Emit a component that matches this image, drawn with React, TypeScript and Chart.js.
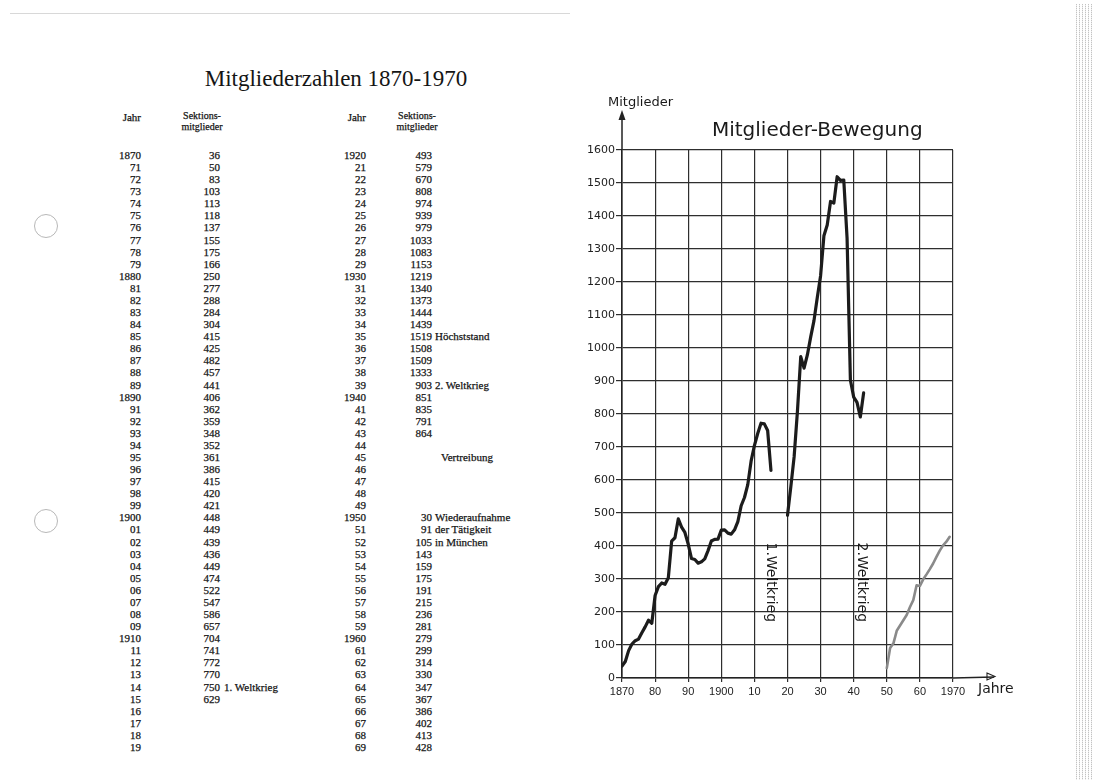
import React, { useEffect, useRef } from "react";
import { Chart, registerables } from "chart.js";

Chart.register(...registerables);

// ---- data ----
const years: number[] = [
  1870, 1871, 1872, 1873, 1874, 1875, 1876, 1877, 1878, 1879,
  1880, 1881, 1882, 1883, 1884, 1885, 1886, 1887, 1888, 1889,
  1890, 1891, 1892, 1893, 1894, 1895, 1896, 1897, 1898, 1899,
  1900, 1901, 1902, 1903, 1904, 1905, 1906, 1907, 1908, 1909,
  1910, 1911, 1912, 1913, 1914, 1915, 1916, 1917, 1918, 1919,
  1920, 1921, 1922, 1923, 1924, 1925, 1926, 1927, 1928, 1929,
  1930, 1931, 1932, 1933, 1934, 1935, 1936, 1937, 1938, 1939,
  1940, 1941, 1942, 1943, 1944, 1945, 1946, 1947, 1948, 1949,
  1950, 1951, 1952, 1953, 1954, 1955, 1956, 1957, 1958, 1959,
  1960, 1961, 1962, 1963, 1964, 1965, 1966, 1967, 1968, 1969,
];

const members: (number | null)[] = [
  36, 50, 83, 103, 113, 118, 137, 155, 175, 166,
  250, 277, 288, 284, 304, 415, 425, 482, 457, 441,
  406, 362, 359, 348, 352, 361, 386, 415, 420, 421,
  448, 449, 439, 436, 449, 474, 522, 547, 586, 657,
  704, 741, 772, 770, 750, 629, null, null, null, null,
  493, 579, 670, 808, 974, 939, 979, 1033, 1083, 1153,
  1219, 1340, 1373, 1444, 1439, 1519, 1508, 1509, 1333, 903,
  851, 835, 791, 864, null, null, null, null, null, null,
  30, 91, 105, 143, 159, 175, 191, 215, 236, 281,
  279, 299, 314, 330, 347, 367, 386, 402, 413, 428,
];

// year labels as printed in the table
const yearLabels: string[] = [
  "1870", "71", "72", "73", "74", "75", "76", "77", "78", "79",
  "1880", "81", "82", "83", "84", "85", "86", "87", "88", "89",
  "1890", "91", "92", "93", "94", "95", "96", "97", "98", "99",
  "1900", "01", "02", "03", "04", "05", "06", "07", "08", "09",
  "1910", "11", "12", "13", "14", "15", "16", "17", "18", "19",
  "1920", "21", "22", "23", "24", "25", "26", "27", "28", "29",
  "1930", "31", "32", "33", "34", "35", "36", "37", "38", "39",
  "1940", "41", "42", "43", "44", "45", "46", "47", "48", "49",
  "1950", "51", "52", "53", "54", "55", "56", "57", "58", "59",
  "1960", "61", "62", "63", "64", "65", "66", "67", "68", "69",
];

// notes in the table, keyed by year
const noteYears: number[] = [1914, 1935, 1939, 1945, 1950, 1951, 1952];
const noteTexts: string[] = [
  "1. Weltkrieg",
  "Höchststand",
  "2. Weltkrieg",
  "Vertreibung",
  "Wiederaufnahme",
  "der Tätigkeit",
  "in München",
];

const xTickValues: number[] = [1870, 1880, 1890, 1900, 1910, 1920, 1930, 1940, 1950, 1960, 1970];
const xTickLabels: string[] = ["1870", "80", "90", "1900", "10", "20", "30", "40", "50", "60", "1970"];

const warLabelYears: number[] = [1915, 1942.5];
const warLabelTexts: string[] = ["1.Weltkrieg", "2.Weltkrieg"];

const chartTitle = "Mitglieder-Bewegung";
const yAxisTitle = "Mitglieder";
const xAxisTitle = "Jahre";
const tableTitle = "Mitgliederzahlen 1870-1970";

const SANS = "'DejaVu Sans', 'Liberation Sans', sans-serif";
const SERIF = "'Liberation Serif', 'DejaVu Serif', serif";

const decorPlugin = {
  id: "decor",
  afterDraw(chart: any) {
    const { ctx, chartArea, scales } = chart;
    const { left, right, top, bottom } = chartArea;
    ctx.save();
    ctx.strokeStyle = "#222";
    ctx.fillStyle = "#222";
    ctx.lineWidth = 1.5;
    // y-axis arrow
    ctx.beginPath();
    ctx.moveTo(left, top);
    ctx.lineTo(left, top - 34);
    ctx.stroke();
    ctx.beginPath();
    ctx.moveTo(left, top - 40);
    ctx.lineTo(left - 3.5, top - 30);
    ctx.lineTo(left + 3.5, top - 30);
    ctx.closePath();
    ctx.fill();
    // x-axis arrow
    ctx.beginPath();
    ctx.moveTo(right, bottom);
    ctx.lineTo(right + 41, bottom - 1);
    ctx.stroke();
    ctx.lineWidth = 1.1;
    ctx.beginPath();
    ctx.moveTo(right + 34, bottom - 5);
    ctx.lineTo(right + 42, bottom - 1.5);
    ctx.lineTo(right + 34, bottom + 2);
    ctx.closePath();
    ctx.stroke();

    // axis titles
    ctx.fillStyle = "#1a1a1a";
    ctx.textBaseline = "middle";
    ctx.textAlign = "left";
    ctx.font = `13px ${SANS}`;
    ctx.fillText(yAxisTitle, left - 14, top - 47);
    ctx.font = `14px ${SANS}`;
    ctx.fillText(xAxisTitle, right + 25, bottom + 11);

    // chart title
    ctx.font = `20px ${SANS}`;
    ctx.textAlign = "center";
    ctx.fillText(chartTitle, left + (right - left) * 0.59, top - 19);

    // war labels (rotated)
    ctx.font = `14px ${SANS}`;
    const yMid = scales.y.getPixelForValue(290);
    warLabelTexts.forEach((t, i) => {
      const x = scales.x.getPixelForValue(warLabelYears[i]);
      ctx.save();
      ctx.translate(x, yMid);
      ctx.rotate(Math.PI / 2);
      ctx.textAlign = "center";
      ctx.textBaseline = "middle";
      ctx.fillText(t, 0, 0);
      ctx.restore();
    });
    ctx.restore();
  },
};

function ChartView() {
  const ref = useRef<HTMLCanvasElement>(null);
  useEffect(() => {
    if (!ref.current) return;
    const points = years.map((y, i) => ({ x: y, y: members[i] }));
    const chart = new Chart(ref.current, {
      type: "line",
      data: {
        datasets: [
          {
            data: points as any,
            borderColor: "#1c1c1c",
            borderWidth: 3.2,
            pointRadius: 0,
            spanGaps: false,
            tension: 0,
            borderJoinStyle: "round",
            borderCapStyle: "round",
            segment: {
              borderColor: (c: any) => (c.p0.parsed.x >= 1950 ? "#8a8a8a" : "#1c1c1c"),
              borderWidth: (c: any) => (c.p0.parsed.x >= 1950 ? 2.6 : 3.2),
            },
          },
        ],
      },
      options: {
        animation: false,
        responsive: false,
        layout: { padding: { left: 22, right: 87, top: 65, bottom: 12 } },
        plugins: { legend: { display: false }, tooltip: { enabled: false }, title: { display: false } },
        scales: {
          x: {
            type: "linear",
            min: 1870,
            max: 1970,
            ticks: {
              stepSize: 10,
              autoSkip: false,
              maxRotation: 0,
              padding: 3,
              color: "#222",
              font: { family: "'Liberation Sans', sans-serif", size: 11 },
              callback: (v: any) => {
                const i = xTickValues.indexOf(Number(v));
                return i >= 0 ? xTickLabels[i] : "";
              },
            },
            grid: { color: "#2e2e2e", lineWidth: 1.2, tickLength: 4 },
            border: { color: "#222", width: 1.6 },
            afterFit: (s: any) => {
              s.height = 30;
            },
          },
          y: {
            min: 0,
            max: 1600,
            ticks: {
              stepSize: 100,
              padding: 1,
              color: "#222",
              font: { family: SANS, size: 11 },
              callback: (v: any) => String(v),
            },
            grid: { color: "#2e2e2e", lineWidth: 1.2, tickLength: 6 },
            border: { color: "#222", width: 1.6 },
            afterFit: (s: any) => {
              s.width = 40;
            },
          },
        },
      },
      plugins: [decorPlugin],
    });
    return () => chart.destroy();
  }, []);
  return (
    <canvas
      ref={ref}
      width={480}
      height={635}
      style={{ position: "absolute", left: 560, top: 85, width: 480, height: 635 }}
    />
  );
}

const ROW0 = 155;
const ROW_H = 12.08;

function TableColumn({ offset, yearRight, valueRight, noteLeft }: { offset: number; yearRight: number; valueRight: number; noteLeft: number }) {
  const rows = [];
  for (let i = 0; i < 50; i++) {
    const idx = offset + i;
    const v = members[idx];
    const ni = noteYears.indexOf(years[idx]);
    const top = ROW0 + i * ROW_H - 7;
    rows.push(
      <React.Fragment key={idx}>
        <div style={{ position: "absolute", left: yearRight - 40, width: 40, top, textAlign: "right", lineHeight: "14px" }}>
          {yearLabels[idx]}
        </div>
        <div style={{ position: "absolute", left: valueRight - 40, width: 40, top, textAlign: "right", lineHeight: "14px" }}>
          {v === null ? "" : String(v)}
        </div>
        {ni >= 0 && (
          <div style={{ position: "absolute", left: noteLeft + (noteTexts[ni] === "Vertreibung" ? 6 : 0), top, whiteSpace: "nowrap", lineHeight: "14px" }}>
            {noteTexts[ni]}
          </div>
        )}
      </React.Fragment>
    );
  }
  return <>{rows}</>;
}

function Header({ jahrRight, sekCenter }: { jahrRight: number; sekCenter: number }) {
  return (
    <>
      <div style={{ position: "absolute", left: jahrRight - 40, width: 40, top: 111, textAlign: "right", fontSize: 11 }}>Jahr</div>
      <div style={{ position: "absolute", left: sekCenter - 40, width: 80, top: 111, textAlign: "center", fontSize: 10, lineHeight: "10.5px" }}>
        Sektions-
        <br />
        mitglieder
      </div>
    </>
  );
}

export default function App() {
  return (
    <div
      style={{
        position: "absolute",
        left: 0,
        top: 0,
        width: 1097,
        height: 780,
        background: "#fff",
        overflow: "hidden",
        fontFamily: SERIF,
        color: "#151515",
      }}
    >
      {/* scan artefacts */}
      <div style={{ position: "absolute", left: 10, top: 13, width: 560, height: 1, background: "#d8d8d8" }} />
      <div style={{ position: "absolute", left: 34, top: 214, width: 22, height: 22, borderRadius: "50%", border: "1px solid #b8b8b8" }} />
      <div style={{ position: "absolute", left: 34, top: 509, width: 22, height: 22, borderRadius: "50%", border: "1px solid #b8b8b8" }} />
      <div
        style={{
          position: "absolute",
          left: 1076,
          top: 4,
          width: 18,
          height: 776,
          opacity: 0.75,
          backgroundImage:
            "repeating-linear-gradient(0deg, rgba(255,255,255,0.7) 0 1px, transparent 1px 2px), repeating-linear-gradient(90deg, #b0b0b0 0 1px, transparent 1px 3px)",
        }}
      />

      {/* table */}
      <div style={{ position: "absolute", left: 200, width: 272, top: 66, textAlign: "center", fontSize: 23, whiteSpace: "nowrap" }}>
        {tableTitle}
      </div>
      <div style={{ fontSize: 11, WebkitTextStroke: "0.25px #151515" } as any}>
        <Header jahrRight={141} sekCenter={202} />
        <Header jahrRight={366} sekCenter={417} />
        <TableColumn offset={0} yearRight={141} valueRight={220} noteLeft={224} />
        <TableColumn offset={50} yearRight={366} valueRight={432} noteLeft={435} />
      </div>

      <ChartView />
    </div>
  );
}
